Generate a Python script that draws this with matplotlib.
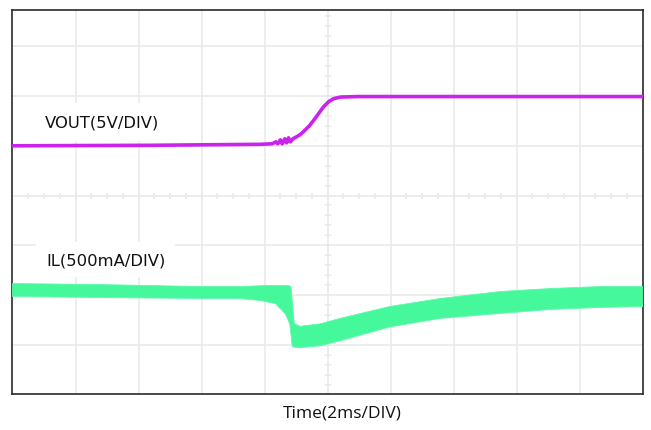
import numpy as np
import matplotlib
matplotlib.use("Agg")
from matplotlib import pyplot

# x in divisions (2 ms/div), y in screen divisions from bottom
vout_t = [0.00, 2.18, 3.93, 4.12, 4.18, 4.21, 4.25, 4.28, 4.32, 4.35, 4.38, 4.41,
          4.45, 4.56, 4.63, 4.71, 4.79, 4.87, 4.94, 5.02, 5.10, 5.21, 5.48, 10.0]
vout_y = [5.00, 5.01, 5.03, 5.04, 5.08, 5.04, 5.12, 5.04, 5.14, 5.06, 5.16, 5.08,
          5.14, 5.22, 5.30, 5.40, 5.53, 5.67, 5.79, 5.89, 5.95, 5.98, 5.99, 5.99]

il_top_t = [0.00, 1.39, 2.98, 3.61, 4.01, 4.37, 4.42, 4.47, 4.56, 4.88, 5.20,
            5.99, 6.79, 7.74, 8.53, 9.33, 10.0]
il_top_y = [2.23, 2.21, 2.17, 2.17, 2.19, 2.19, 2.17, 1.43, 1.37, 1.42, 1.53,
            1.77, 1.93, 2.07, 2.13, 2.17, 2.17]
il_bot_t = [0.00, 1.39, 2.98, 3.61, 3.93, 4.17, 4.33, 4.40, 4.44, 4.56, 4.88,
            5.20, 5.99, 6.79, 7.74, 8.53, 9.33, 10.0]
il_bot_y = [1.97, 1.95, 1.93, 1.93, 1.89, 1.83, 1.62, 1.42, 0.96, 0.94, 0.98,
            1.08, 1.36, 1.53, 1.63, 1.71, 1.75, 1.77]

vout_label = "VOUT(5V/DIV)"
il_label = "IL(500mA/DIV)"
time_label = "Time(2ms/DIV)"

# -----------------------------------------------------------------------------
fig = pyplot.figure(figsize=(6.51, 4.31), dpi=100, facecolor='w')
ax = fig.add_axes([0.0192, 0.0824, 0.968, 0.8932])
ax.set_xlim(0, 10)
ax.set_ylim(0, 7.74)
ax.set_xticks([])
ax.set_yticks([])

grid_c = '#e8e8e8'
for k in range(1, 10):
    ax.axvline(k, color=grid_c, linewidth=1.1, zorder=0)
for k in range(1, 8):
    ax.axhline(k, color=grid_c, linewidth=1.1, zorder=0)

# small ticks on the centre lines
xs = np.arange(0.25, 10, 0.25)
ax.plot(xs, np.full(len(xs), 4.0), '|', color=grid_c, markersize=4, mew=1.1, zorder=0)
ys = np.arange(0.2, 7.74, 0.2)
ax.plot(np.full(len(ys), 5.0), ys, '_', color=grid_c, markersize=4, mew=1.1, zorder=0)

for side in ax.spines.values():
    side.set_color('#2a2a2a')
    side.set_linewidth(1.2)

ax.text(0.52, 5.47, vout_label, fontsize=11.8, va='center', ha='left', color='#111111',
        bbox=dict(facecolor='white', edgecolor='none', boxstyle='square,pad=0.7'), zorder=1)
ax.text(0.53, 2.71, il_label, fontsize=11.8, va='center', ha='left', color='#111111',
        bbox=dict(facecolor='white', edgecolor='none', boxstyle='square,pad=0.6'), zorder=1)

ax.plot(vout_t, vout_y, color='#cc22ee', linewidth=2.6, zorder=3)

poly_t = np.concatenate([il_top_t, il_bot_t[::-1]])
poly_y = np.concatenate([il_top_y, il_bot_y[::-1]])
ax.fill(poly_t, poly_y, color='#46f89c', linewidth=0.6, edgecolor='#5cf8aa', zorder=3)

fig.text(0.526, 0.041, time_label, fontsize=12.5, family='Open Sans',
         ha='center', va='center', color='#111111')

pyplot.savefig('out.png', dpi=100)
